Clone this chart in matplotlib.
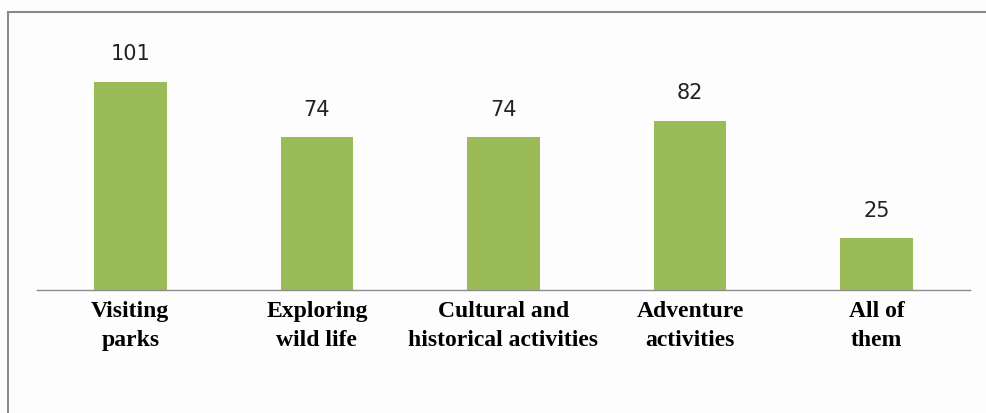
import matplotlib
matplotlib.use("Agg")
import matplotlib.pyplot as plt
from matplotlib.patches import Rectangle

categories = ["Visiting\nparks", "Exploring\nwild life", "Cultural and\nhistorical activities",
              "Adventure\nactivities", "All of\nthem"]
values = [101, 74, 74, 82, 25]

fig = plt.figure(figsize=(9.87, 4.13), dpi=100)
fig.patch.set_facecolor("#fdfdfd")
ax = fig.add_axes([37 / 987, 123 / 413, 933 / 987, 268 / 413])
ax.set_facecolor("none")

x = range(len(values))
bars = ax.bar(x, values, width=0.39, color="#9bbb59")
ax.set_xlim(-0.5, len(values) - 0.5)
ax.set_ylim(0, 130)

for b, v in zip(bars, values):
    ax.text(b.get_x() + b.get_width() / 2, v + 8.5, str(v), ha="center", va="bottom",
            fontsize=15, family="DejaVu Sans", color="#222222")

ax.set_xticks(list(x))
ax.set_xticklabels(categories, family="Liberation Serif", fontweight="bold",
                   fontsize=17, linespacing=1.5)
ax.tick_params(axis="x", length=0, pad=8)
ax.set_yticks([])
for s in ["top", "right", "left"]:
    ax.spines[s].set_visible(False)
ax.spines["bottom"].set_color("#8c8c8c")
ax.spines["bottom"].set_linewidth(1.0)

# outer chart frame
fig.patches.append(Rectangle((8 / 987, -0.2), 1.2, 1 - 12 / 413 + 0.2,
                             transform=fig.transFigure, fill=False,
                             edgecolor="#8a8a8a", linewidth=1.5))

fig.savefig("out.png", dpi=100, facecolor=fig.get_facecolor())
